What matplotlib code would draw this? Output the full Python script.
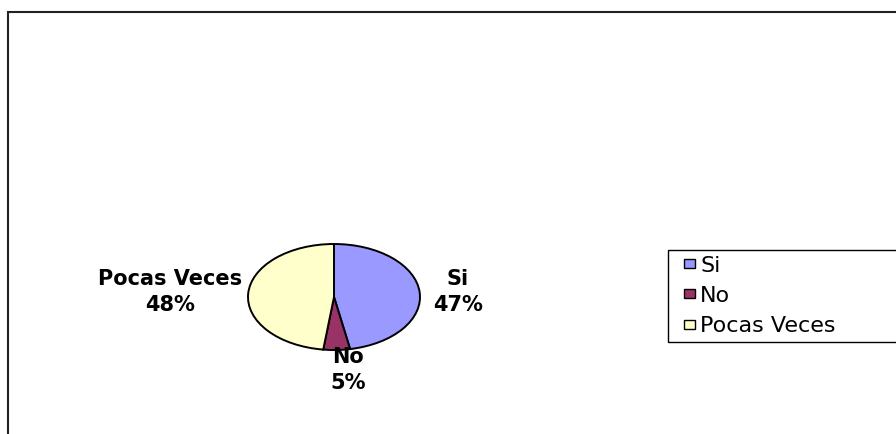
import matplotlib
matplotlib.use("Agg")
import matplotlib.pyplot as plt
import matplotlib.patches as patches
from matplotlib.legend_handler import HandlerPatch

# data
labels = ["Si", "No", "Pocas Veces"]
values = [47, 5, 48]
colors = ["#9999FF", "#993366", "#FFFFCC"]

W, H = 896, 434
fig = plt.figure(figsize=(W / 100, H / 100), dpi=100)
fig.patch.set_facecolor("white")

# chart frame (only top and left visible, the rest runs off the image)
frame = patches.Rectangle((8 / W, 0 - 0.1), 1.2, (H - 12) / H + 0.1,
                          transform=fig.transFigure, fill=False,
                          edgecolor="#222222", linewidth=1.5)
fig.patches.append(frame)

# pie, squashed into a wide ellipse
cx, cy, rx, ry = 334, 297, 86, 53
ax = fig.add_axes([(cx - rx) / W, (H - cy - ry) / H, 2 * rx / W, 2 * ry / H])
wedges, _ = ax.pie(values, colors=colors, startangle=90, counterclock=False,
                   wedgeprops=dict(edgecolor="black", linewidth=1.4))
ax.set_aspect("auto")
ax.set_xlim(-1, 1)
ax.set_ylim(-1, 1)
ax.axis("off")

total = sum(values)
label_pos = [(1.44, 0.09), (0.16, -1.38), (-1.91, 0.09)]
for lab, v, (lx, ly) in zip(labels, values, label_pos):
    ax.text(lx, ly, f"{lab}\n{round(100 * v / total)}%", ha="center", va="center",
            fontsize=15, fontweight="bold", family="DejaVu Sans",
            linespacing=1.4, clip_on=False)


# small square legend keys sitting at the right of the key area
def small_key(legend, orig_handle, xdescent, ydescent, width, height, fontsize):
    return patches.Rectangle((-xdescent + width - 8, -ydescent + (height - 6.5) / 2), 8, 6.5)


handles = [patches.Rectangle((0, 0), 1, 1, facecolor=c, edgecolor="black", linewidth=1)
           for c in colors]
# legend box runs past the right edge of the image, as in the original
leg = fig.legend(handles, labels, loc="upper left", mode="expand",
                 bbox_to_anchor=(668 / W, 1 - 344 / H, 260 / W, 94 / H),
                 prop=dict(family="DejaVu Sans", size=16),
                 frameon=True, fancybox=False, edgecolor="black",
                 handlelength=0.97, handleheight=0.5, handletextpad=0.23,
                 labelspacing=0.46, borderpad=0.25, borderaxespad=0,
                 framealpha=1,
                 handler_map={patches.Rectangle: HandlerPatch(patch_func=small_key)})
leg.get_frame().set_linewidth(1.0)

fig.savefig("out.png", dpi=100)
